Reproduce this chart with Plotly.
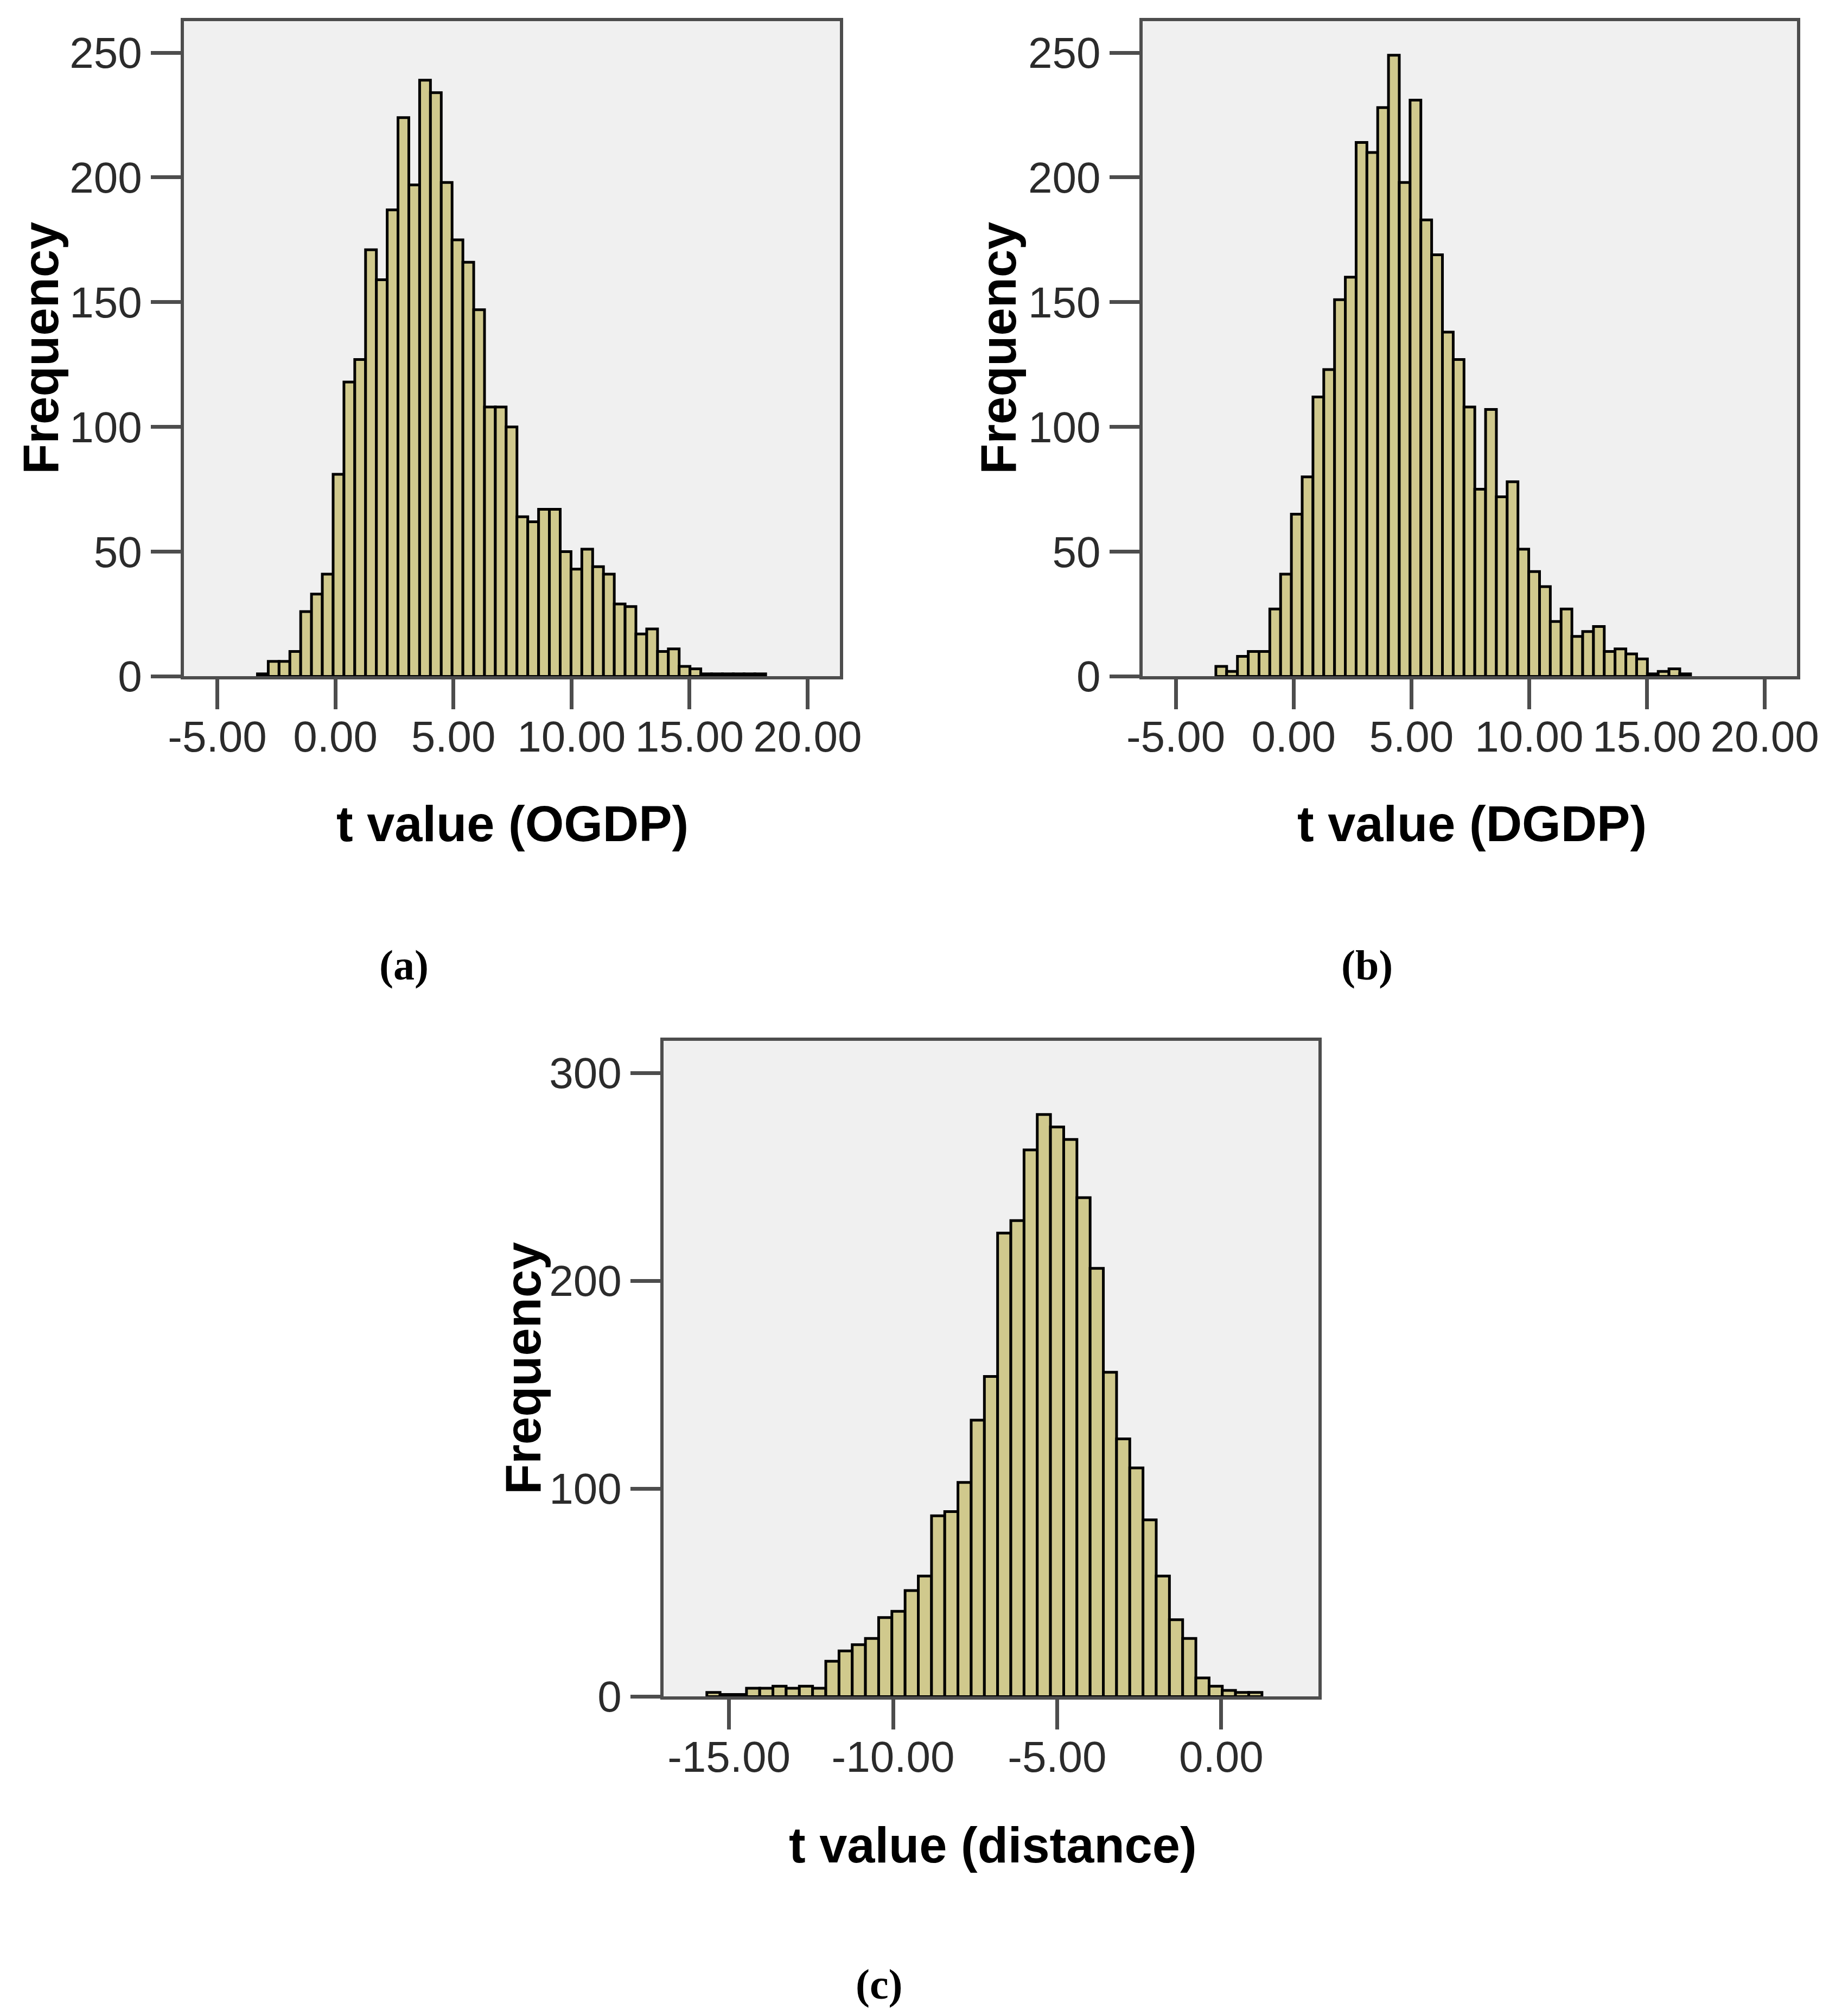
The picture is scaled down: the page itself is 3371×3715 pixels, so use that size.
import plotly.graph_objects as go

# --- data ---
# (a) t value (OGDP): 47 bins
ogdp_start = -3.30
ogdp_width = 0.458
ogdp_counts = [1, 6, 6, 10, 26, 33, 41, 81, 118, 127,
               171, 159, 187, 224, 197, 239, 234, 198, 175, 166,
               147, 108, 108, 100, 64, 62, 67, 67, 50, 43,
               51, 44, 41, 29, 28, 17, 19, 10, 11, 4,
               3, 1, 1, 1, 1, 1, 1]

# (b) t value (DGDP): 44 bins
dgdp_start = -3.30
dgdp_width = 0.458
dgdp_counts = [4, 2, 8, 10, 10, 27, 41, 65, 80, 112,
               123, 151, 160, 214, 210, 228, 249, 198, 231, 183,
               169, 138, 127, 108, 75, 107, 72, 78, 51, 42,
               36, 22, 27, 16, 18, 20, 10, 11, 9, 7,
               1, 2, 3, 1]

# (c) t value (distance): 42 bins
dist_start = -15.676
dist_width = 0.4028
dist_counts = [2, 1, 1, 4, 4, 5, 4, 5, 4, 17,
               22, 25, 28, 38, 41, 51, 58, 87, 89, 103,
               133, 154, 223, 229, 263, 280, 274, 268, 240, 206,
               156, 124, 110, 85, 58, 37, 28, 9, 5, 3,
               2, 2]

ab_xticks = [-5, 0, 5, 10, 15, 20]
ab_xtext = ["-5.00", "0.00", "5.00", "10.00", "15.00", "20.00"]
ab_yticks = [0, 50, 100, 150, 200, 250]
c_xticks = [-15, -10, -5, 0]
c_xtext = ["-15.00", "-10.00", "-5.00", "0.00"]
c_yticks = [0, 100, 200, 300]

W, H = 3371, 3715
BAR_FILL = "#D0C98D"
FRAME = "#4d4d4d"
TICKFONT = dict(family="Liberation Sans, Arial, sans-serif", size=80, color="#2b2b2b")
TITLEFONT = dict(family="Liberation Sans, Arial, sans-serif", size=92, color="black")
LABELFONT = dict(family="Liberation Serif, Times New Roman, serif", size=78, color="black")


def centers(start, width, n):
    return [start + width * (i + 0.5) for i in range(n)]


def px_x(p):
    return p / W


def px_y(p):
    return 1 - p / H


fig = go.Figure()
panels = [
    ("x", "y", ogdp_start, ogdp_width, ogdp_counts),
    ("x2", "y2", dgdp_start, dgdp_width, dgdp_counts),
    ("x3", "y3", dist_start, dist_width, dist_counts),
]
for xa, ya, st, wd, cnt in panels:
    fig.add_trace(go.Bar(
        x=centers(st, wd, len(cnt)), y=cnt, width=wd,
        marker=dict(color=BAR_FILL, line=dict(color="black", width=5)),
        xaxis=xa, yaxis=ya, showlegend=False, hoverinfo="x+y",
    ))

axis_common = dict(
    showgrid=False, zeroline=False, showline=True, mirror=True,
    linecolor=FRAME, linewidth=6, ticks="outside", tickcolor=FRAME,
    tickwidth=7, ticklen=55, tickfont=TICKFONT, automargin=False,
)
xaxis_extra = dict(ticklabelstandoff=-18)

# plot areas in pixels measured on the reference
dom_a = ([330.7, 1540.0], [31.2, 1238.4])
dom_b = ([2097.5, 3304.0], [31.2, 1238.4])
dom_c = ([1214.7, 2422.4], [1909.5, 3118.4])


def xdom(d):
    return [px_x(d[0][0]), px_x(d[0][1])]


def ydom(d):
    return [px_y(d[1][1]), px_y(d[1][0])]


fig.update_layout(
    width=W, height=H,
    margin=dict(l=0, r=0, t=0, b=0, autoexpand=False),
    paper_bgcolor="white", plot_bgcolor="#F0F0F0",
    barmode="overlay",
    xaxis=dict(domain=xdom(dom_a), anchor="y", range=[-6.42, 21.37],
               tickvals=ab_xticks, ticktext=ab_xtext, **axis_common, **xaxis_extra),
    yaxis=dict(domain=ydom(dom_a), anchor="x", range=[0, 262.6],
               tickvals=ab_yticks, **axis_common),
    xaxis2=dict(domain=xdom(dom_b), anchor="y2", range=[-6.42, 21.37],
                tickvals=ab_xticks, ticktext=ab_xtext, **axis_common, **xaxis_extra),
    yaxis2=dict(domain=ydom(dom_b), anchor="x2", range=[0, 262.6],
                tickvals=ab_yticks, **axis_common),
    xaxis3=dict(domain=xdom(dom_c), anchor="y3", range=[-17.0, 2.97],
                tickvals=c_xticks, ticktext=c_xtext, **axis_common, **xaxis_extra),
    yaxis3=dict(domain=ydom(dom_c), anchor="x3", range=[0, 315.6],
                tickvals=c_yticks, **axis_common),
)

annots = [
    # y titles
    dict(text="<b>Frequency</b>", x=px_x(67), y=px_y(634), textangle=-90, font=TITLEFONT),
    dict(text="<b>Frequency</b>", x=px_x(1832), y=px_y(634), textangle=-90, font=TITLEFONT),
    dict(text="<b>Frequency</b>", x=px_x(956), y=px_y(2514), textangle=-90, font=TITLEFONT),
    # x titles
    dict(text="<b>t value (OGDP)</b>", x=px_x(936), y=px_y(1510), font=TITLEFONT),
    dict(text="<b>t value (DGDP)</b>", x=px_x(2705), y=px_y(1510), font=TITLEFONT),
    dict(text="<b>t value (distance)</b>", x=px_x(1822), y=px_y(3392), font=TITLEFONT),
    # panel letters
    dict(text="<b>(a)</b>", x=px_x(736), y=px_y(1770), font=LABELFONT),
    dict(text="<b>(b)</b>", x=px_x(2511), y=px_y(1770), font=LABELFONT),
    dict(text="<b>(c)</b>", x=px_x(1612), y=px_y(3648), font=LABELFONT),
]
for a in annots:
    fig.add_annotation(xref="paper", yref="paper", showarrow=False,
                       xanchor="center", yanchor="middle", **a)

fig.write_html("out.html")
